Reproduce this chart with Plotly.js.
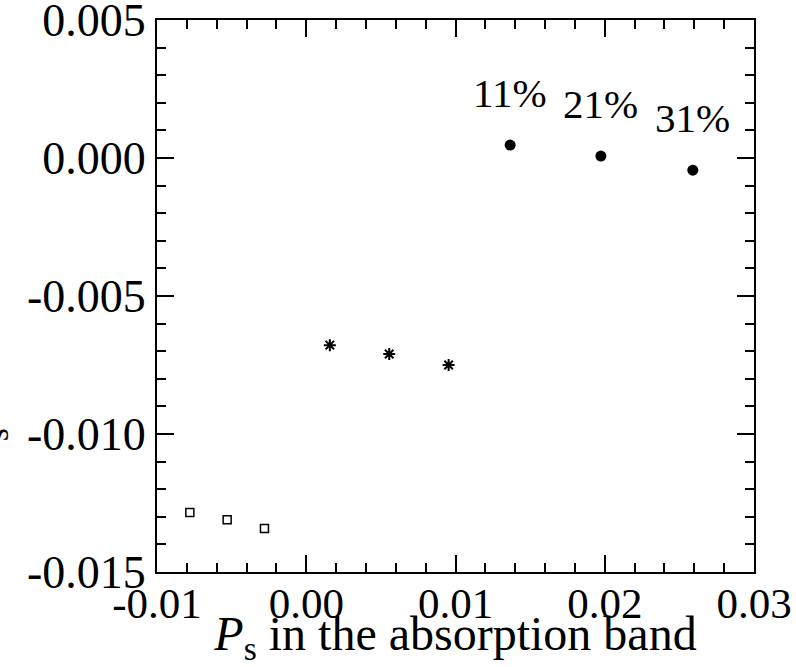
<!DOCTYPE html>
<html>
<head>
<meta charset="utf-8">
<script src="https://cdn.plot.ly/plotly-3.0.1.min.js"></script>
<style>
  html, body { margin: 0; padding: 0; background: #fff; }
  #chart { width: 796px; height: 667px; }
</style>
</head>
<body>
<div id="chart"></div>
<script>
// values
var squareX = [-0.0078, -0.0053, -0.0028];
var squareY = [-0.01284, -0.01311, -0.01342];

var starX = [0.00158, 0.00556, 0.00954];
var starY = [-0.00678, -0.00710, -0.00750];

var dotX = [0.01366, 0.01974, 0.0259];
var dotY = [0.00047, 0.00007, -0.00044];
var dotLabels = ['11%', '21%', '31%'];

var xTickVals = [-0.01, 0.00, 0.01, 0.02, 0.03];
var xTickText = ['-0.01', '0.00', '0.01', '0.02', '0.03'];
var yTickVals = [-0.015, -0.010, -0.005, 0.000, 0.005];
var yTickText = ['-0.015', '-0.010', '-0.005', '0.000', '0.005'];

var serif = 'Liberation Serif, Times New Roman, serif';

var squares = {
    type: 'scatter',
    mode: 'markers',
    x: squareX,
    y: squareY,
    marker: {
        symbol: 'square-open',
        size: 8,
        color: 'black',
        line: { color: 'black', width: 1.5 }
    }
};

var stars = {
    type: 'scatter',
    mode: 'markers',
    x: starX,
    y: starY,
    marker: {
        symbol: 'asterisk-open',
        size: 10,
        color: 'black',
        line: { color: 'black', width: 2 }
    }
};

var dots = {
    type: 'scatter',
    mode: 'markers',
    x: dotX,
    y: dotY,
    marker: { symbol: 'circle', size: 11, color: 'black' }
};

var notes = dotLabels.map(function (t, i) {
    return {
        x: dotX[i],
        y: dotY[i],
        xref: 'x',
        yref: 'y',
        text: t,
        showarrow: false,
        yshift: 52,
        font: { family: serif, size: 41, color: 'black' }
    };
});

// y title sits mostly outside the left edge, as in the picture
notes.push({
    xref: 'paper',
    yref: 'paper',
    x: -0.234,
    y: 0.178,
    xanchor: 'right',
    yanchor: 'bottom',
    textangle: -90,
    showarrow: false,
    text: '<i>P</i><sub>s</sub> in the emission band',
    font: { family: serif, size: 48, color: 'black' }
});

var axisCommon = {
    showgrid: false,
    zeroline: false,
    showline: true,
    linecolor: 'black',
    linewidth: 2,
    mirror: 'ticks',
    ticks: 'inside',
    ticklen: 17,
    tickwidth: 2,
    tickcolor: 'black',
    tickmode: 'array',
    ticklabeloverflow: 'allow'
};

var layout = {
    width: 796,
    height: 667,
    showlegend: false,
    paper_bgcolor: 'white',
    plot_bgcolor: 'white',
    margin: { l: 157, r: 42, t: 20, b: 95 },
    xaxis: Object.assign({}, axisCommon, {
        range: [-0.01, 0.03],
        tickvals: xTickVals,
        ticktext: xTickText,
        ticklabelstandoff: -8,
        tickfont: { family: serif, size: 43, color: 'black' },
        minor: { tickmode: 'linear', tick0: 0, dtick: 0.002, ticklen: 9, tickwidth: 2, tickcolor: 'black', ticks: 'inside' },
        title: {
            text: '<i>P</i><sub>s</sub> in the absorption band',
            font: { family: serif, size: 48, color: 'black' },
            standoff: 6
        }
    }),
    yaxis: Object.assign({}, axisCommon, {
        range: [-0.015, 0.005],
        tickvals: yTickVals,
        ticktext: yTickText,
        tickfont: { family: serif, size: 46, color: 'black' },
        minor: { tickmode: 'linear', tick0: 0, dtick: 0.001, ticklen: 9, tickwidth: 2, tickcolor: 'black', ticks: 'inside' }
    }),
    annotations: notes
};

Plotly.newPlot('chart', [squares, stars, dots], layout, { displayModeBar: false, staticPlot: true });
</script>
</body>
</html>
